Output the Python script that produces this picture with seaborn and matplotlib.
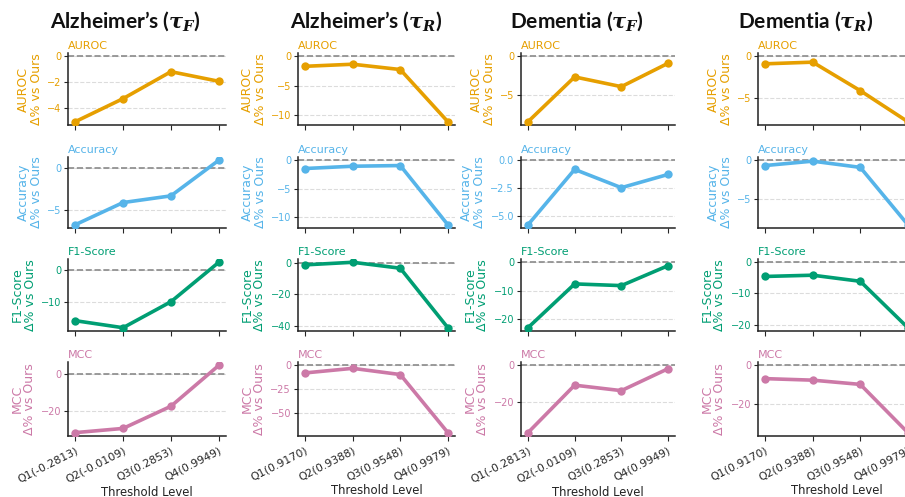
import matplotlib
matplotlib.use("Agg")
import matplotlib.pyplot as plt
from matplotlib.ticker import MultipleLocator
import seaborn as sns
import pandas as pd

# ---------------- data ----------------
column_titles = ["Alzheimer\u2019s ($\\tau_F$)", "Alzheimer\u2019s ($\\tau_R$)",
                 "Dementia ($\\tau_F$)", "Dementia ($\\tau_R$)"]
thresholds_F = ["Q1(-0.2813)", "Q2(-0.0109)", "Q3(0.2853)", "Q4(0.9949)"]
thresholds_R = ["Q1(0.9170)", "Q2(0.9388)", "Q3(0.9548)", "Q4(0.9979)"]
metrics = ["AUROC", "Accuracy", "F1-Score", "MCC"]
metric_colors = ["#E69F00", "#56B4E9", "#009E73", "#CC79A7"]

alz_F_auroc = [-5.1, -3.3, -1.2, -1.95]
alz_F_acc = [-6.75, -4.1, -3.3, 0.95]
alz_F_f1 = [-15.7, -17.9, -9.8, 2.5]
alz_F_mcc = [-32.0, -29.7, -17.6, 4.7]

alz_R_auroc = [-1.7, -1.35, -2.25, -11.1]
alz_R_acc = [-1.45, -1.05, -0.93, -11.3]
alz_R_f1 = [-1.06, 0.6, -3.2, -41.3]
alz_R_mcc = [-7.9, -3.1, -9.6, -70.3]

dem_F_auroc = [-8.4, -2.65, -3.9, -0.9]
dem_F_acc = [-5.76, -0.82, -2.45, -1.27]
dem_F_f1 = [-23.0, -7.6, -8.2, -1.2]
dem_F_mcc = [-37.0, -10.9, -13.9, -1.85]

dem_R_auroc = [-0.9, -0.7, -4.1, -7.8]
dem_R_acc = [-0.69, -0.12, -0.93, -8.4]
dem_R_f1 = [-4.55, -4.15, -6.1, -21.0]
dem_R_mcc = [-6.9, -7.7, -9.9, -35.0]

# y tick spacing shown in each column (AUROC, Accuracy, F1-Score, MCC)
alz_F_tick_steps = [2, 5, 10, 20]
alz_R_tick_steps = [5, 5, 20, 25]
dem_F_tick_steps = [5, 2.5, 10, 20]
dem_R_tick_steps = [5, 5, 10, 20]

column_data = [
    (thresholds_F, [alz_F_auroc, alz_F_acc, alz_F_f1, alz_F_mcc], alz_F_tick_steps),
    (thresholds_R, [alz_R_auroc, alz_R_acc, alz_R_f1, alz_R_mcc], alz_R_tick_steps),
    (thresholds_F, [dem_F_auroc, dem_F_acc, dem_F_f1, dem_F_mcc], dem_F_tick_steps),
    (thresholds_R, [dem_R_auroc, dem_R_acc, dem_R_f1, dem_R_mcc], dem_R_tick_steps),
]

# ---------------- layout ----------------
sns.set_style("ticks")
plt.rcParams["font.family"] = ["DejaVu Sans"]
plt.rcParams["mathtext.fontset"] = "custom"
plt.rcParams["mathtext.it"] = "DejaVu Serif:italic:bold"
plt.rcParams["mathtext.rm"] = "DejaVu Serif:bold"

W, H = 905, 497
fig = plt.figure(figsize=(W / 100, H / 100), dpi=100)

col_px = [(68, 226), (298, 455), (521, 675), (758, 915)]
row_px = [(53, 125), (157, 228), (259, 331), (362, 436)]
title_x_px = [125, 366, 577, 806]

for c, (thr, series, steps) in enumerate(column_data):
    fig.text(title_x_px[c] / W, 1 - 21 / H, column_titles[c], ha="center", va="center",
             fontsize=15, fontweight="bold", family="Lato", color="#111111")
    for r, vals in enumerate(series):
        x0, x1 = col_px[c]
        y0, y1 = row_px[r]
        ax = fig.add_axes([x0 / W, 1 - y1 / H, (x1 - x0) / W, (y1 - y0) / H])
        color = metric_colors[r]
        df = pd.DataFrame({"threshold": thr, "delta": vals})
        ax.axhline(0, color="#8a8a8a", ls="--", lw=1.2, zorder=1)
        sns.lineplot(data=df, x="threshold", y="delta", ax=ax, color=color, lw=2.6,
                     marker="o", markersize=6, markeredgewidth=0, sort=False, zorder=3)
        ax.yaxis.set_major_locator(MultipleLocator(steps[r]))
        ax.yaxis.grid(True, ls="--", color="#dcdcdc", lw=0.8)
        ax.set_axisbelow(True)
        for s in ["top", "right"]:
            ax.spines[s].set_visible(False)
        for s in ["left", "bottom"]:
            ax.spines[s].set_color("#222222")
            ax.spines[s].set_linewidth(1.1)
        ax.tick_params(axis="y", labelcolor=color, labelsize=7, length=3, width=0.8, pad=2)
        ax.tick_params(axis="x", labelsize=7.9, length=3.5, width=0.8, pad=3)
        ax.set_title(metrics[r], loc="left", color=color, fontsize=8, pad=3)
        ax.set_ylabel(f"{metrics[r]}\n\u0394% vs Ours", color=color, fontsize=9,
                      linespacing=1.0, labelpad=3)
        if r == 3:
            ax.set_xlabel("Threshold Level", fontsize=8.4, color="#222222", labelpad=1)
            for lab in ax.get_xticklabels():
                lab.set_rotation(27)
                lab.set_ha("right")
                lab.set_rotation_mode("anchor")
        else:
            ax.set_xlabel("")
            ax.set_xticklabels([])

fig.savefig("out.png", dpi=100)
